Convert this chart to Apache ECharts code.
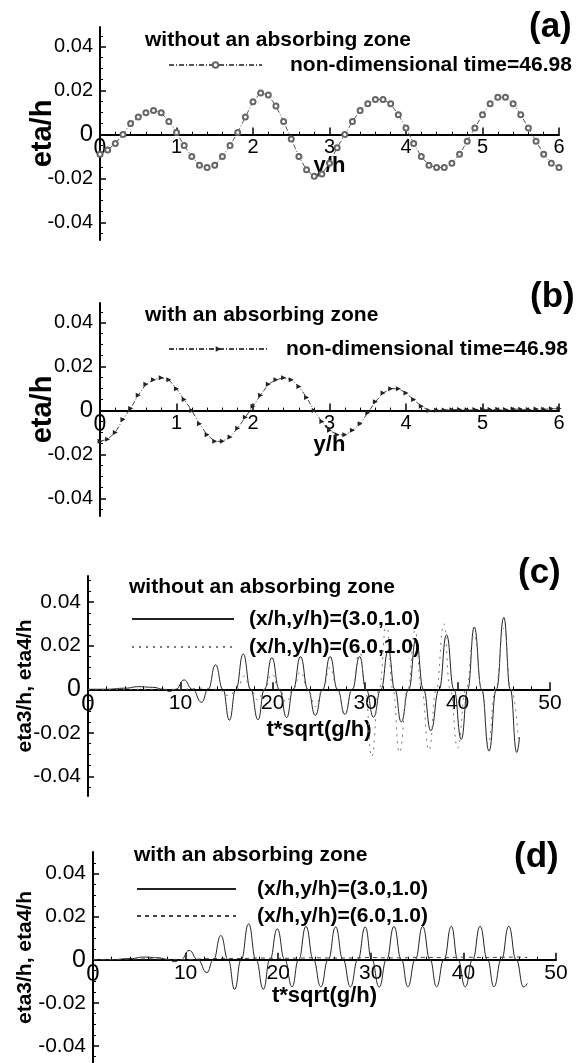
<!DOCTYPE html>
<html>
<head>
<meta charset="utf-8">
<title>eta/h</title>
<script src="https://cdn.jsdelivr.net/npm/echarts@6/dist/echarts.min.js"></script>
<style>
  html, body { margin: 0; padding: 0; background: #fff; }
  #chart { width: 581px; height: 1063px; }
</style>
</head>
<body>
<div id="chart"></div>
<script>
const FONT = '"Liberation Sans", Arial, Helvetica, sans-serif';

// (a), (b): surface elevation along y/h at non-dimensional time 46.98
const posY = [0, 0.1, 0.2, 0.3, 0.4, 0.5, 0.6, 0.7, 0.8, 0.9,
  1.0, 1.1, 1.2, 1.3, 1.4, 1.5, 1.6, 1.7, 1.8, 1.9,
  2.0, 2.1, 2.2, 2.3, 2.4, 2.5, 2.6, 2.7, 2.8, 2.9,
  3.0, 3.1, 3.2, 3.3, 3.4, 3.5, 3.6, 3.7, 3.8, 3.9,
  4.0, 4.1, 4.2, 4.3, 4.4, 4.5, 4.6, 4.7, 4.8, 4.9,
  5.0, 5.1, 5.2, 5.3, 5.4, 5.5, 5.6, 5.7, 5.8, 5.9, 6.0];
const etaA = [-0.009, -0.007, -0.004, 0.000, 0.005, 0.008, 0.010, 0.011, 0.010, 0.006,
  0.001, -0.005, -0.010, -0.014, -0.015, -0.014, -0.010, -0.005, 0.001, 0.008,
  0.015, 0.019, 0.018, 0.013, 0.006, -0.002, -0.010, -0.016, -0.019, -0.018,
  -0.013, -0.006, 0.000, 0.006, 0.011, 0.014, 0.016, 0.016, 0.014, 0.009,
  0.003, -0.004, -0.010, -0.014, -0.015, -0.015, -0.013, -0.009, -0.003, 0.003,
  0.009, 0.014, 0.017, 0.017, 0.014, 0.009, 0.003, -0.003, -0.009, -0.013, -0.015];
const etaB = [-0.014, -0.013, -0.010, -0.004, 0.001, 0.007, 0.012, 0.014, 0.015, 0.014,
  0.010, 0.005, 0.000, -0.006, -0.011, -0.014, -0.014, -0.012, -0.008, -0.003,
  0.002, 0.007, 0.012, 0.014, 0.015, 0.014, 0.011, 0.006, 0.000, -0.005,
  -0.009, -0.011, -0.011, -0.009, -0.006, -0.001, 0.004, 0.008, 0.010, 0.010,
  0.008, 0.005, 0.002, 0.000, 0.0002, 0.0003, 0.0004, 0.0005, 0.0004, 0.0005,
  0.0006, 0.0005, 0.0006, 0.0005, 0.0007, 0.0006, 0.0005, 0.0007, 0.0006, 0.0008, 0.0009];

// (c): time series without absorbing zone
const tC3 = [0, 2, 4, 5.5, 7, 8.2, 8.8, 9.5, 10.4, 11.3, 12.3, 13.0, 13.8, 14.6, 15.3,
  16.0, 16.8, 17.6, 18.4, 19.1, 19.9, 20.7, 21.5, 22.2, 23.0, 23.8, 24.6, 25.4, 26.2,
  27.0, 27.8, 28.6, 29.4, 30.1, 30.9, 31.7, 32.5, 33.2, 33.9, 34.7, 35.5, 36.3, 37.1,
  38.0, 38.8, 39.6, 40.4, 41.1, 41.8, 42.6, 43.4, 44.2, 45.0, 45.7, 46.4, 46.7];
const etaC3 = [0, 0, 0.0005, 0.0012, 0.0009, 0, -0.001, 0, 0.0043, 0, -0.006, 0, 0.0112, 0, -0.0142,
  0, 0.0162, 0, -0.014, 0, 0.0145, 0, -0.013, 0, 0.015, 0, -0.012, 0, 0.015,
  0, -0.0115, 0, 0.015, 0, -0.0128, 0, 0.018, 0, -0.015, 0, 0.023, 0, -0.019,
  0, 0.025, 0, -0.023, 0, 0.0286, 0, -0.0284, 0, 0.033, 0, -0.029, -0.022];
const tC6 = [0, 10, 12.5, 14.0, 15.3, 16.1, 16.9, 17.6, 18.4, 19.1, 19.9, 20.7, 21.5, 22.2, 23.0,
  23.8, 24.6, 25.4, 26.2, 27.0, 27.8, 28.6, 29.4, 30.0, 30.7, 31.5, 32.3, 33.0, 33.7, 34.6,
  35.4, 36.1, 36.9, 37.7, 38.5, 39.2, 40.0, 40.9, 41.8, 42.6, 43.3, 44.1, 45.0, 45.8, 46.6];
const etaC6 = [0, 0, 0.0005, 0, -0.003, 0, 0.006, 0, -0.005, 0, 0.007, 0, -0.006, 0, 0.008,
  0, -0.008, 0, 0.010, 0, -0.012, 0, 0.018, 0, -0.031, 0, 0.030, 0, -0.029, 0,
  0.027, 0, -0.028, 0, 0.030, 0, -0.027, 0, 0.025, 0, -0.025, 0, 0.028, 0, -0.024];

// (d): time series with absorbing zone
const tD3 = [0, 2, 4, 5.5, 7, 8.2, 8.8, 9.5, 10.4, 11.3, 12.3, 13.0, 13.8, 14.6, 15.3,
  16.0, 16.8, 17.6, 18.4, 19.1, 19.9, 20.7, 21.5, 22.2, 23.0, 23.8, 24.6, 25.4, 26.2,
  27.0, 27.8, 28.6, 29.4, 30.1, 30.9, 31.7, 32.5, 33.3, 34.0, 34.8, 35.6, 36.4, 37.1,
  37.9, 38.7, 39.4, 40.2, 41.0, 41.8, 42.6, 43.3, 44.1, 44.9, 45.7, 46.5, 46.9];
const etaD3 = [0, 0, 0.0005, 0.0012, 0.0009, 0, -0.001, 0, 0.0043, 0, -0.006, 0, 0.0112, 0, -0.0138,
  0, 0.0166, 0, -0.0137, 0, 0.0143, 0, -0.0126, 0, 0.0154, 0, -0.0126, 0, 0.0152,
  0, -0.0126, 0, 0.0152, 0, -0.0127, 0, 0.0154, 0, -0.0126, 0, 0.0154, 0, -0.0126,
  0, 0.0155, 0, -0.0126, 0, 0.0155, 0, -0.0126, 0, 0.0155, 0, -0.0127, -0.011];
const tD6 = [0, 2, 4, 6, 8, 10, 12, 14, 16, 18, 20, 22, 24, 26, 28, 30, 32, 34, 36, 38, 40, 42, 44, 46, 46.9];
const etaD6 = [0, 0, 0.0002, 0.0004, 0.0002, 0, 0.0004, 0.0006, 0.0005, 0.0008, 0.0006, 0.0007, 0.0009,
  0.0007, 0.0008, 0.001, 0.0008, 0.0009, 0.0011, 0.0009, 0.0012, 0.001, 0.0011, 0.0012, 0.001];

const yTicks = [-0.04, -0.02, 0, 0.02, 0.04];

function zip(xs, ys) {
  return xs.map((x, i) => [x, ys[i]]);
}

const zeroBig = v => (v === 0 ? '{z|0}' : String(v));

// panel boxes: left, top, width, height, y range
const panels = [
  { left: 100, top: 27, width: 459, height: 213, min: -0.048, max: 0.049 },
  { left: 100, top: 303, width: 459, height: 213, min: -0.048, max: 0.049 },
  { left: 88, top: 576, width: 462, height: 220, min: -0.049, max: 0.052 },
  { left: 93, top: 852, width: 463, height: 211, min: -0.048, max: 0.05 }
];

// distance from the bottom of a grid up to its eta = 0 line
function zeroLift(p) {
  return p.height * (-p.min) / (p.max - p.min);
}

function yAxis(i, name, nameSize, nameGap, labelSize) {
  const p = panels[i];
  return {
    type: 'value', gridIndex: i, min: p.min, max: p.max,
    axisLine: { show: true, onZero: false, lineStyle: { color: '#000', width: 2 } },
    axisTick: { show: true, inside: true, length: 6, customValues: yTicks, lineStyle: { color: '#000', width: 1.5 } },
    minorTick: { show: true, splitNumber: 4, length: 3, lineStyle: { color: '#000', width: 1 } },
    axisLabel: {
      customValues: yTicks, margin: 7, color: '#000', fontSize: labelSize, fontFamily: FONT,
      formatter: zeroBig, rich: { z: { fontSize: labelSize + 4, fontFamily: FONT, color: '#000' } }
    },
    splitLine: { show: false },
    name: name, nameLocation: 'middle', nameRotate: 90, nameGap: nameGap, nameMoveOverlap: false,
    nameTextStyle: { color: '#000', fontSize: nameSize, fontWeight: 'bold', fontFamily: FONT }
  };
}

function xAxis(i, max, interval, name, nameGap, labelSize) {
  return {
    type: 'value', gridIndex: i, min: 0, max: max, interval: interval,
    position: 'bottom', offset: -zeroLift(panels[i]),
    axisLine: { onZero: false, lineStyle: { color: '#000', width: 2 } },
    axisTick: { inside: true, length: 7, lineStyle: { color: '#000', width: 1.5 } },
    minorTick: { show: true, splitNumber: 5, length: 3, lineStyle: { color: '#000', width: 1 } },
    axisLabel: {
      margin: 3, color: '#000', fontSize: labelSize, fontFamily: FONT,
      formatter: zeroBig, rich: { z: { fontSize: labelSize + 3, fontFamily: FONT, color: '#000' } }
    },
    splitLine: { show: false },
    name: name, nameLocation: 'middle', nameGap: nameGap, nameMoveOverlap: false,
    nameTextStyle: { color: '#000', fontSize: 22, fontWeight: 'bold', fontFamily: FONT }
  };
}

function heading(text, left, top, size) {
  return {
    text: text, left: left, top: top, padding: 0,
    textStyle: { color: '#000', fontSize: size, fontWeight: 'bold', fontFamily: FONT }
  };
}

function legendBox(names, left, top, width, pad, gap) {
  return {
    data: names, left: left, top: top, padding: 0, orient: 'vertical',
    itemWidth: width, itemHeight: 7, itemGap: gap, selectedMode: false,
    textStyle: { color: '#000', fontSize: 21, fontWeight: 'bold', fontFamily: FONT, lineHeight: 22, padding: [0, 0, 0, pad] }
  };
}

const nameA = 'non-dimensional time=46.98';
const nameB = 'non-dimensional time=46.98 ';
const nameC3 = '(x/h,y/h)=(3.0,1.0)';
const nameC6 = '(x/h,y/h)=(6.0,1.0)';
const nameD3 = '(x/h,y/h)=(3.0,1.0) ';
const nameD6 = '(x/h,y/h)=(6.0,1.0) ';

const lgC = legendBox([nameC3, nameC6], 131, 608, 102, 10, 6);
const lgD = legendBox([nameD3, nameD6], 136, 878, 99, 16, 5);
lgC.itemStyle = { opacity: 0 };
lgD.itemStyle = { opacity: 0 };

const chart = echarts.init(document.getElementById('chart'), null, { renderer: 'canvas' });
chart.setOption({
  animation: false,
  backgroundColor: '#fff',
  title: [
    heading('without an absorbing zone', 145, 30, 21),
    heading('(a)', 529, 10, 35),
    heading('with an absorbing zone', 145, 305, 21),
    heading('(b)', 530, 280, 35),
    heading('without an absorbing zone', 129, 577, 21),
    heading('(c)', 518, 556, 35),
    heading('with an absorbing zone', 134, 845, 21),
    heading('(d)', 514, 840, 35)
  ],
  legend: [
    legendBox([nameA], 168, 54, 93, 23, 6),
    legendBox([nameB], 168, 338, 99, 13, 6),
    lgC,
    lgD
  ],
  grid: panels.map(p => ({ left: p.left, top: p.top, width: p.width, height: p.height, outerBoundsMode: 'none' })),
  xAxis: [
    xAxis(0, 6, 1, 'y/h', 20, 20),
    xAxis(1, 6, 1, 'y/h', 23, 20),
    xAxis(2, 50, 10, 't*sqrt(g/h)', 30, 21),
    xAxis(3, 50, 10, 't*sqrt(g/h)', 25, 21)
  ],
  yAxis: [
    yAxis(0, 'eta/h', 29, 43, 20),
    yAxis(1, 'eta/h', 29, 43, 20),
    yAxis(2, 'eta3/h, eta4/h', 21, 52, 21),
    yAxis(3, 'eta3/h, eta4/h', 21, 57, 21)
  ],
  series: [
    {
      name: nameA, type: 'line', xAxisIndex: 0, yAxisIndex: 0, data: zip(posY, etaA),
      symbol: 'emptyCircle', symbolSize: 5, showAllSymbol: true,
      lineStyle: { color: '#555', width: 1, type: [5, 2, 1, 2] },
      itemStyle: { color: '#666', borderWidth: 0.8 }
    },
    {
      name: nameB, type: 'line', xAxisIndex: 1, yAxisIndex: 1, data: zip(posY, etaB),
      symbol: 'triangle', symbolRotate: -90, symbolSize: 5, showAllSymbol: true,
      lineStyle: { color: '#444', width: 1, type: [5, 2, 1, 2] },
      itemStyle: { color: '#222' }
    },
    {
      name: nameC3, type: 'line', xAxisIndex: 2, yAxisIndex: 2, data: zip(tC3, etaC3),
      smooth: 0.5, smoothMonotone: 'x', symbol: 'none',
      lineStyle: { color: '#222', width: 1 }, itemStyle: { color: '#222' }
    },
    {
      name: nameC6, type: 'line', xAxisIndex: 2, yAxisIndex: 2, data: zip(tC6, etaC6),
      smooth: 0.5, smoothMonotone: 'x', symbol: 'none',
      lineStyle: { color: '#777', width: 1, type: [2, 5] }, itemStyle: { color: '#777' }
    },
    {
      name: nameD3, type: 'line', xAxisIndex: 3, yAxisIndex: 3, data: zip(tD3, etaD3),
      smooth: 0.5, smoothMonotone: 'x', symbol: 'none',
      lineStyle: { color: '#222', width: 1 }, itemStyle: { color: '#222' }
    },
    {
      name: nameD6, type: 'line', xAxisIndex: 3, yAxisIndex: 3, data: zip(tD6, etaD6),
      symbol: 'none',
      lineStyle: { color: '#444', width: 1, type: [4, 4] }, itemStyle: { color: '#444' }
    }
  ]
});
</script>
</body>
</html>
